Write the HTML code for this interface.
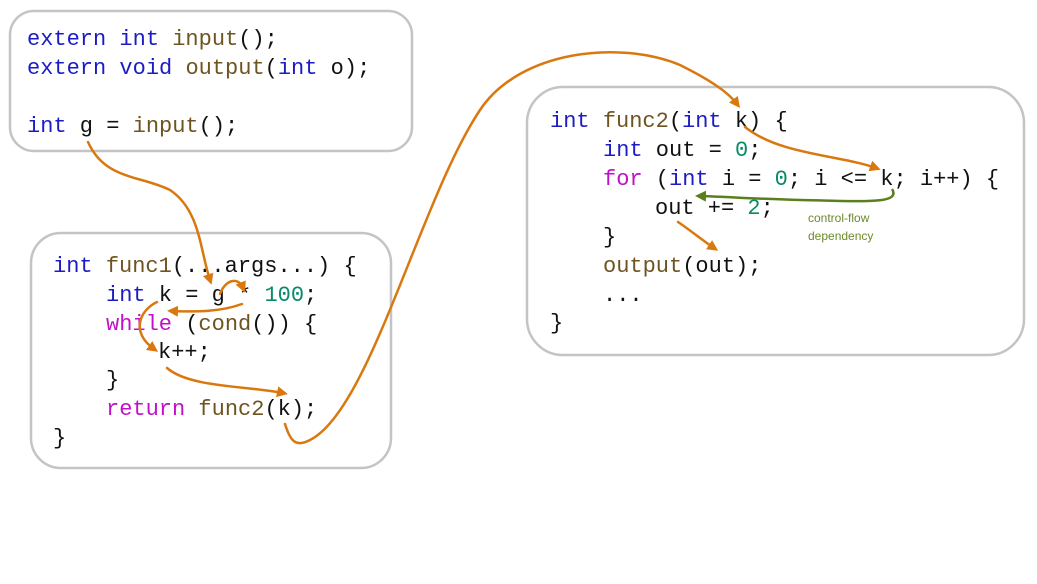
<!DOCTYPE html>
<html><head><meta charset="utf-8"><style>
html,body{margin:0;padding:0;background:#fff;}
svg{display:block;}
.c{font-family:"Liberation Mono",monospace;font-size:22px;fill:#111;}
.k{fill:#1c1cc4}.f{fill:#6e5420}.n{fill:#098a68}.m{fill:#c010c8}
</style></head><body>
<svg width="1037" height="584" xmlns="http://www.w3.org/2000/svg">
<defs>
<marker id="a" markerWidth="11" markerHeight="11" refX="6" refY="5.5" orient="auto" markerUnits="userSpaceOnUse" viewBox="0 0 11 11"><path d="M0,0 L11,5.5 L0,11 Z" fill="#d9780f"/></marker>
<marker id="g" markerWidth="11" markerHeight="11" refX="6" refY="5.5" orient="auto" markerUnits="userSpaceOnUse" viewBox="0 0 11 11"><path d="M0,0 L11,5.5 L0,11 Z" fill="#5b7f1c"/></marker>
</defs>
<g fill="#fff" stroke="#c4c4c4" stroke-width="2.5">
<rect x="10" y="11" width="402" height="140" rx="24"/>
<rect x="31" y="233" width="360" height="235" rx="30"/>
<rect x="527" y="87" width="497" height="268" rx="36"/>
</g>
<g class="c">
<text x="27" y="45"><tspan class="k">extern int</tspan> <tspan class="f">input</tspan>();</text>
<text x="27" y="74"><tspan class="k">extern void</tspan> <tspan class="f">output</tspan>(<tspan class="k">int</tspan> o);</text>
<text x="27" y="132"><tspan class="k">int</tspan> g = <tspan class="f">input</tspan>();</text>

<text x="53" y="272"><tspan class="k">int</tspan> <tspan class="f">func1</tspan>(...args...) {</text>
<text x="106" y="301"><tspan class="k">int</tspan> k = g * <tspan class="n">100</tspan>;</text>
<text x="106" y="330"><tspan class="m">while</tspan> (<tspan class="f">cond</tspan>()) {</text>
<text x="158" y="358">k++;</text>
<text x="106" y="386">}</text>
<text x="106" y="415"><tspan class="m">return</tspan> <tspan class="f">func2</tspan>(k);</text>
<text x="53" y="444">}</text>

<text x="550" y="127"><tspan class="k">int</tspan> <tspan class="f">func2</tspan>(<tspan class="k">int</tspan> k) {</text>
<text x="603" y="156"><tspan class="k">int</tspan> out = <tspan class="n">0</tspan>;</text>
<text x="603" y="185"><tspan class="m">for</tspan> (<tspan class="k">int</tspan> i = <tspan class="n">0</tspan>; i &lt;= k; i++) {</text>
<text x="655" y="214">out += <tspan class="n">2</tspan>;</text>
<text x="603" y="243">}</text>
<text x="603" y="272"><tspan class="f">output</tspan>(out);</text>
<text x="603" y="301">...</text>
<text x="550" y="329">}</text>
</g>
<g fill="none" stroke="#d9780f" stroke-width="2.5" stroke-linecap="round">
<path d="M88,142 C105,180 140,175 170,190 C200,210 200,250 210,280" marker-end="url(#a)"/>
<path d="M220,294 C225,280 238,276 243,288" marker-end="url(#a)"/>
<path d="M242,304 C220,312 195,312 172,311" marker-end="url(#a)"/>
<path d="M157,302 C140,310 130,332 154,349" marker-end="url(#a)"/>
<path d="M167,368 C190,388 250,386 283,393" marker-end="url(#a)"/>
<path d="M285,424 C290,440 295,448 310,440 C370,410 420,200 480,110 C520,50 620,40 680,65 C710,80 728,92 737,104" marker-end="url(#a)"/>
<path d="M745,127 C780,155 840,155 876,168" marker-end="url(#a)"/>
<path d="M678,222 C690,230 702,240 714,248" marker-end="url(#a)"/>
</g>
<path d="M892,189 C902,205 860,201 800,200 C760,199 730,197 700,196" fill="none" stroke="#5b7f1c" stroke-width="2.5" marker-end="url(#g)"/>
<text x="808" y="222" font-family="Liberation Sans,sans-serif" font-size="12" fill="#6b8a2a">control-flow</text>
<text x="808" y="240" font-family="Liberation Sans,sans-serif" font-size="12" fill="#6b8a2a">dependency</text>
</svg>
</body></html>
